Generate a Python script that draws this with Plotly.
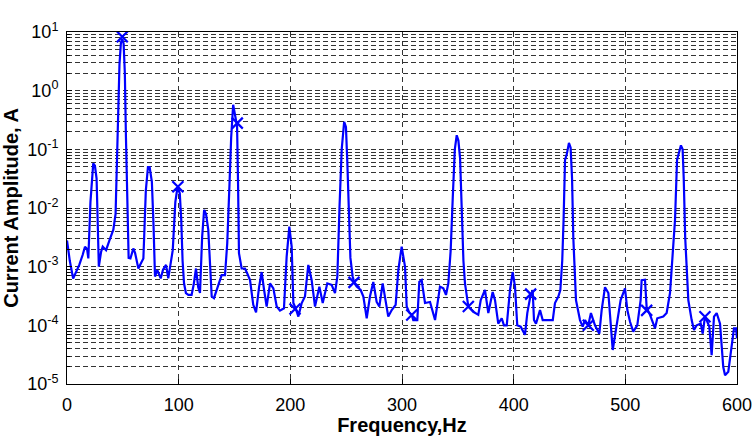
import plotly.graph_objects as go

# Spectrum (frequency in Hz, current amplitude in A)
freq = [0, 2.5, 5.5, 8, 11, 14, 16.1, 18, 19.1, 21, 23.5, 25, 26.5, 28.5, 30.5, 32, 35, 38, 41.5, 43.5,
        44.8, 45.8, 47, 48.3, 49.5, 50.7, 51.8, 52.8, 54, 55.2, 56.8, 59.4, 61, 63.9, 66, 68.4, 70.6, 72.5, 74, 76,
        77.5, 78.8, 80.9, 83.9, 86, 88.7, 90.7, 92.5, 94.7, 97, 99, 101, 102.3, 103.5, 104.8, 106.5, 108.7, 111.6, 113.5, 115.5,
        117.5, 119.1, 121, 122.8, 124.5, 126.5, 128, 129.6, 131.6, 134, 136.5, 138.5, 141.5, 143.5, 145.5, 147, 148.8, 150.5, 152.3, 153.2,
        154, 156.4, 159.4, 161.5, 163.9, 166.8, 169.3, 172, 174.3, 176.5, 178.8, 181.8, 184.8, 187.8, 190.7, 194.3, 196.7, 199.1, 201.2, 202.7,
        205, 207.2, 210.2, 213.1, 216.1, 219.1, 222.1, 226, 229, 233.1, 237, 240, 242.1, 244, 246, 248.2, 249.8, 251, 252.5, 253.8,
        255.8, 257.5, 259.4, 263, 265.4, 268.4, 271.3, 274.3, 277.3, 279.7, 282.7, 284.8, 287.7, 290.8, 294.3, 296.7, 299.7, 302.7, 304.2, 306.5,
        308.7, 310.1, 313.7, 315.5, 317.6, 320.6, 325.1, 329.6, 334, 337, 339.4, 341.5, 343.6, 345.5, 347.3, 349, 350.5, 352, 353.5, 355,
        356.4, 359.4, 363.9, 368.3, 370.5, 374.3, 377.3, 381.2, 383.3, 386.2, 389.3, 391.3, 393.8, 396.7, 399.1, 401.2, 403.2, 406.3, 410.1, 412.2,
        415, 417, 418.2, 420, 423.6, 426, 429.6, 435, 437, 440, 441.8, 443.5, 444.7, 446, 447.6, 449.5, 451, 452.3, 453.4, 454.8,
        455.8, 459.4, 461.8, 463.9, 466.8, 469.2, 472.8, 476.7, 478.8, 481.8, 484.8, 488.7, 492.3, 495.8, 499.7, 501.8, 504.2, 507.1, 510.7, 513.7,
        514.6, 517.6, 519.1, 522.1, 526.6, 528.6, 534, 537, 540, 542.4, 544.5, 546.3, 548, 549.8, 551.3, 552.3, 553.6, 554.8, 556.4, 559.4,
        561.5, 563.9, 567.5, 569.3, 571.3, 572.8, 575.2, 577.3, 579.4, 581.8, 584.8, 587.7, 589.3, 592.2, 595.2, 597.3, 599.1, 600]

amp = [2.8e-3, 1.26e-3, 6.3e-4, 7.9e-4, 1.07e-3, 1.58e-3, 2.19e-3, 2.0e-3, 1.38e-3, 1.26e-2, 5.75e-2, 5.25e-2, 3.16e-2, 1.0e-3, 1.78e-3, 2.19e-3, 1.91e-3, 2.8e-3, 4.27e-3, 7.9e-3,
       5.0e-2, 0.40, 2.82, 6.6, 7.6, 6.3, 2.0, 0.158, 1.0e-2, 1.41e-3, 1.38e-3, 2.04e-3, 1.70e-3, 9.3e-4, 1.12e-3, 1.38e-3, 2.0e-2, 5.0e-2, 5.0e-2, 2.8e-2,
       5.0e-3, 6.8e-4, 8.7e-4, 6.3e-4, 8.9e-4, 1.07e-3, 6.3e-4, 1.12e-3, 1.91e-3, 1.26e-2, 2.29e-2, 1.78e-2, 6.3e-3, 1.26e-3, 5.2e-4, 3.55e-4, 3.3e-4, 3.3e-4, 5.0e-4, 9.3e-4,
       4.47e-4, 3.55e-4, 3.16e-3, 9.3e-3, 7.9e-3, 4.27e-3, 1.0e-3, 3.1e-4, 2.9e-4, 4.0e-4, 5.6e-4, 7.2e-4, 7.2e-4, 2.5e-3, 2.5e-2, 0.158, 0.575, 0.38, 0.25, 2.5e-2,
       1.7e-3, 9.3e-4, 9.3e-4, 7.6e-4, 5.9e-4, 2.24e-4, 1.66e-4, 4.47e-4, 8.1e-4, 4.0e-4, 2.09e-4, 5.2e-4, 4.27e-4, 2.09e-4, 1.78e-4, 1.95e-4, 1.48e-3, 4.8e-3, 2.19e-3, 2.4e-4,
       1.9e-4, 1.41e-4, 2.4e-4, 3.1e-4, 1.07e-3, 5.9e-4, 2.09e-4, 4.57e-4, 2.4e-4, 5.2e-4, 4.9e-4, 3.55e-4, 6.8e-4, 1.0e-2, 0.1, 0.295, 0.24, 6.3e-2, 6.3e-3, 1.41e-3,
       6.8e-4, 5.2e-4, 4.57e-4, 4.0e-4, 3.1e-4, 1.32e-4, 3.1e-4, 5.5e-4, 2.5e-4, 2.09e-4, 5.2e-4, 3.1e-4, 1.41e-4, 1.82e-4, 2.24e-4, 8.7e-4, 2.19e-3, 1.0e-3, 2.09e-4, 1.66e-4,
       1.51e-4, 1.23e-4, 1.23e-4, 5.5e-4, 5.9e-4, 2.4e-4, 2.5e-4, 1.23e-4, 4.57e-4, 4.27e-4, 3.3e-4, 5.2e-4, 1.91e-3, 1.58e-2, 0.1, 0.174, 0.141, 7.1e-2, 6.3e-3, 1.26e-3,
       5.2e-4, 2.09e-4, 1.7e-4, 1.51e-4, 2.69e-4, 4.0e-4, 1.62e-4, 3.7e-4, 2.69e-4, 1.07e-4, 1.32e-4, 1.0e-4, 1.0e-4, 4.0e-4, 8.1e-4, 4.57e-4, 1.0e-4, 9.5e-5, 6.9e-5, 1.62e-4,
       3.16e-4, 4.0e-4, 1.23e-4, 1.07e-4, 1.82e-4, 1.23e-4, 1.23e-4, 1.23e-4, 2.4e-4, 3.1e-4, 4.0e-4, 1.26e-3, 6.3e-3, 6.6e-2, 8.3e-2, 0.129, 0.107, 3.16e-2, 3.16e-3, 6.3e-4,
       2.69e-4, 1.23e-4, 9.5e-5, 1.23e-4, 1.0e-4, 1.62e-4, 1.0e-4, 7.2e-5, 1.82e-4, 4.47e-4, 3.55e-4, 3.8e-5, 9.5e-5, 2.69e-4, 4.27e-4, 1.82e-4, 1.15e-4, 7.8e-5, 1.0e-4, 2.69e-4,
       5.9e-4, 6.0e-4, 2.0e-4, 1.51e-4, 8.9e-5, 1.32e-4, 1.41e-4, 1.62e-4, 3.55e-4, 1.91e-3, 6.3e-3, 6.6e-2, 8.9e-2, 0.117, 0.1, 3.16e-2, 3.16e-3, 7.9e-4, 2.69e-4, 1.23e-4,
       8.3e-5, 1.0e-4, 1.07e-4, 7.2e-5, 1.41e-4, 1.23e-4, 9.5e-5, 3.1e-5, 1.41e-4, 1.62e-4, 1.07e-4, 1.95e-5, 1.41e-5, 1.62e-5, 4.4e-5, 8.9e-5, 8.9e-5, 6.0e-5]

# Harmonic markers (x)
mark_freq = [49.5, 99.3, 152.5, 204.2, 257, 308.7, 359.4, 415.2, 466.8, 519.1, 571.3]
mark_amp = [8.3, 0.023, 0.28, 1.9e-4, 5.4e-4, 1.5e-4, 2.1e-4, 3.4e-4, 1.0e-4, 1.8e-4, 1.4e-4]

x_ticks = [0, 100, 200, 300, 400, 500, 600]
y_ticks = [1e-5, 1e-4, 1e-3, 1e-2, 1e-1, 1e0, 1e1]
y_ticktext = ["10<sup>-5</sup>", "10<sup>-4</sup>", "10<sup>-3</sup>", "10<sup>-2</sup>",
              "10<sup>-1</sup>", "10<sup>0</sup>", "10<sup>1</sup>"]

BLUE = "#0000ff"
GRID = "#333333"
FONT = "Liberation Sans, Arial, sans-serif"

fig = go.Figure()
fig.add_trace(go.Scatter(x=freq, y=amp, mode="lines",
                         line=dict(color=BLUE, width=2.2), showlegend=False))
fig.add_trace(go.Scatter(x=mark_freq, y=mark_amp, mode="markers",
                         marker=dict(symbol="x-thin", size=11, line=dict(color=BLUE, width=2.2)),
                         showlegend=False))

minor_vals = [m * 10.0 ** e for e in range(-5, 1) for m in range(2, 10)]

fig.update_layout(
    width=752, height=436,
    margin=dict(l=67, r=15, t=32, b=52, autoexpand=False),
    paper_bgcolor="white", plot_bgcolor="white",
    font=dict(family=FONT, size=18, color="black"),
    xaxis=dict(
        range=[0, 600], tickmode="array", tickvals=x_ticks,
        showline=True, linecolor="black", linewidth=1, mirror=True,
        ticks="inside", ticklen=5, tickcolor="black",
        showgrid=True, gridcolor=GRID, gridwidth=1, griddash="5px,4px",
        zeroline=False, ticklabelstandoff=4, ticklabeloverflow="allow",
        automargin=False,
        tickfont=dict(size=18),
        title=dict(text="Frequency,Hz", font=dict(size=20, weight="bold"), standoff=3),
    ),
    yaxis=dict(
        type="log", range=[-5, 1], tickmode="array", tickvals=y_ticks, ticktext=y_ticktext,
        showline=True, linecolor="black", linewidth=1, mirror=True,
        ticks="inside", ticklen=5, tickcolor="black",
        showgrid=True, gridcolor=GRID, gridwidth=1, griddash="5px,3px",
        zeroline=False, ticklabelstandoff=4, ticklabeloverflow="allow",
        automargin=False,
        tickfont=dict(size=18),
        minor=dict(tickvals=minor_vals, showgrid=True, gridcolor=GRID, gridwidth=1,
                   griddash="5px,3px", ticks="inside", ticklen=3, tickcolor="black"),
        title=dict(text="Current Amplitude, A", font=dict(size=20, weight="bold"), standoff=10),
    ),
)

fig.write_html("out.html")
